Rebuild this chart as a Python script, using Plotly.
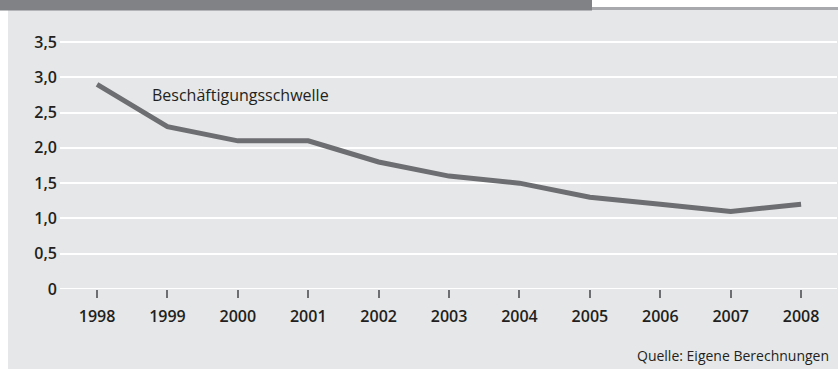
import plotly.graph_objects as go

years = [1998, 1999, 2000, 2001, 2002, 2003, 2004, 2005, 2006, 2007, 2008]
schwelle = [2.9, 2.3, 2.1, 2.1, 1.8, 1.6, 1.5, 1.3, 1.2, 1.1, 1.2]
y_tickvals = [0, 0.5, 1.0, 1.5, 2.0, 2.5, 3.0, 3.5]
y_ticktext = ["0", "0,5", "1,0", "1,5", "2,0", "2,5", "3,0", "3,5"]
series_label = "Beschäftigungsschwelle"
source_text = "Quelle: Eigene Berechnungen"

W, H = 838, 369
ML, MR, MT, MB = 60, 1, 35, 80
PW = W - ML - MR
PH = H - MT - MB


def px_x(p):
    return (p - ML) / PW


def px_y(p):
    return (H - MB - p) / PH


panel = "#e6e7e8"
fig = go.Figure()
fig.add_trace(go.Scatter(
    x=years, y=schwelle, mode="lines",
    line=dict(color="#6d6e71", width=5),
    hoverinfo="skip", showlegend=False,
))

font_main = "Open Sans, Noto Sans, sans-serif"

fig.update_layout(
    width=W, height=H,
    margin=dict(l=ML, r=MR, t=MT, b=MB),
    paper_bgcolor=panel, plot_bgcolor=panel,
    xaxis=dict(
        range=[1997.474, 2008.51], tickvals=years, ticktext=[str(y) for y in years],
        showgrid=False, zeroline=False, showline=False,
        ticks="outside", ticklen=8, tickwidth=2, tickcolor="#6d6e71",
        tickfont=dict(family=font_main, size=16, color="#231f20", weight=600),
        ticklabelstandoff=5,
    ),
    yaxis=dict(
        range=[0, 3.6], tickvals=y_tickvals, ticktext=y_ticktext,
        showgrid=True, gridcolor="white", gridwidth=2,
        zeroline=False, showline=False, ticks="",
        tickfont=dict(family=font_main, size=16, color="#231f20", weight=600),
        ticklabelstandoff=2,
    ),
    shapes=[
        # zero line
        dict(type="line", xref="paper", yref="y", x0=0, x1=1, y0=0, y1=0,
             line=dict(color="white", width=2), layer="below"),
        # left white strip
        dict(type="rect", xref="paper", yref="paper", x0=px_x(0), x1=px_x(8),
             y0=px_y(H + 2), y1=px_y(-2), fillcolor="white", line_width=0, layer="above"),
        # top-right white area
        dict(type="rect", xref="paper", yref="paper", x0=px_x(590), x1=px_x(W + 2),
             y0=px_y(7), y1=px_y(-2), fillcolor="white", line_width=0, layer="above"),
        # gray rule at right
        dict(type="rect", xref="paper", yref="paper", x0=px_x(590), x1=px_x(W + 2),
             y0=px_y(10), y1=px_y(7), fillcolor="#a7a9ac", line_width=0, layer="above"),
        # dark header band
        dict(type="rect", xref="paper", yref="paper", x0=px_x(-2), x1=px_x(592),
             y0=px_y(10.5), y1=px_y(-2), fillcolor="#808285", line_width=0, layer="above"),
    ],
    annotations=[
        dict(x=1998.75, y=2.75, xref="x", yref="y", text=series_label, showarrow=False,
             xanchor="left", yanchor="middle",
             font=dict(family=font_main, size=16, color="#231f20")),
        dict(x=px_x(831), y=px_y(355), xref="paper", yref="paper", text=source_text,
             showarrow=False, xanchor="right", yanchor="middle",
             font=dict(family=font_main, size=14, color="#231f20")),
    ],
)

fig.write_html("out.html")
